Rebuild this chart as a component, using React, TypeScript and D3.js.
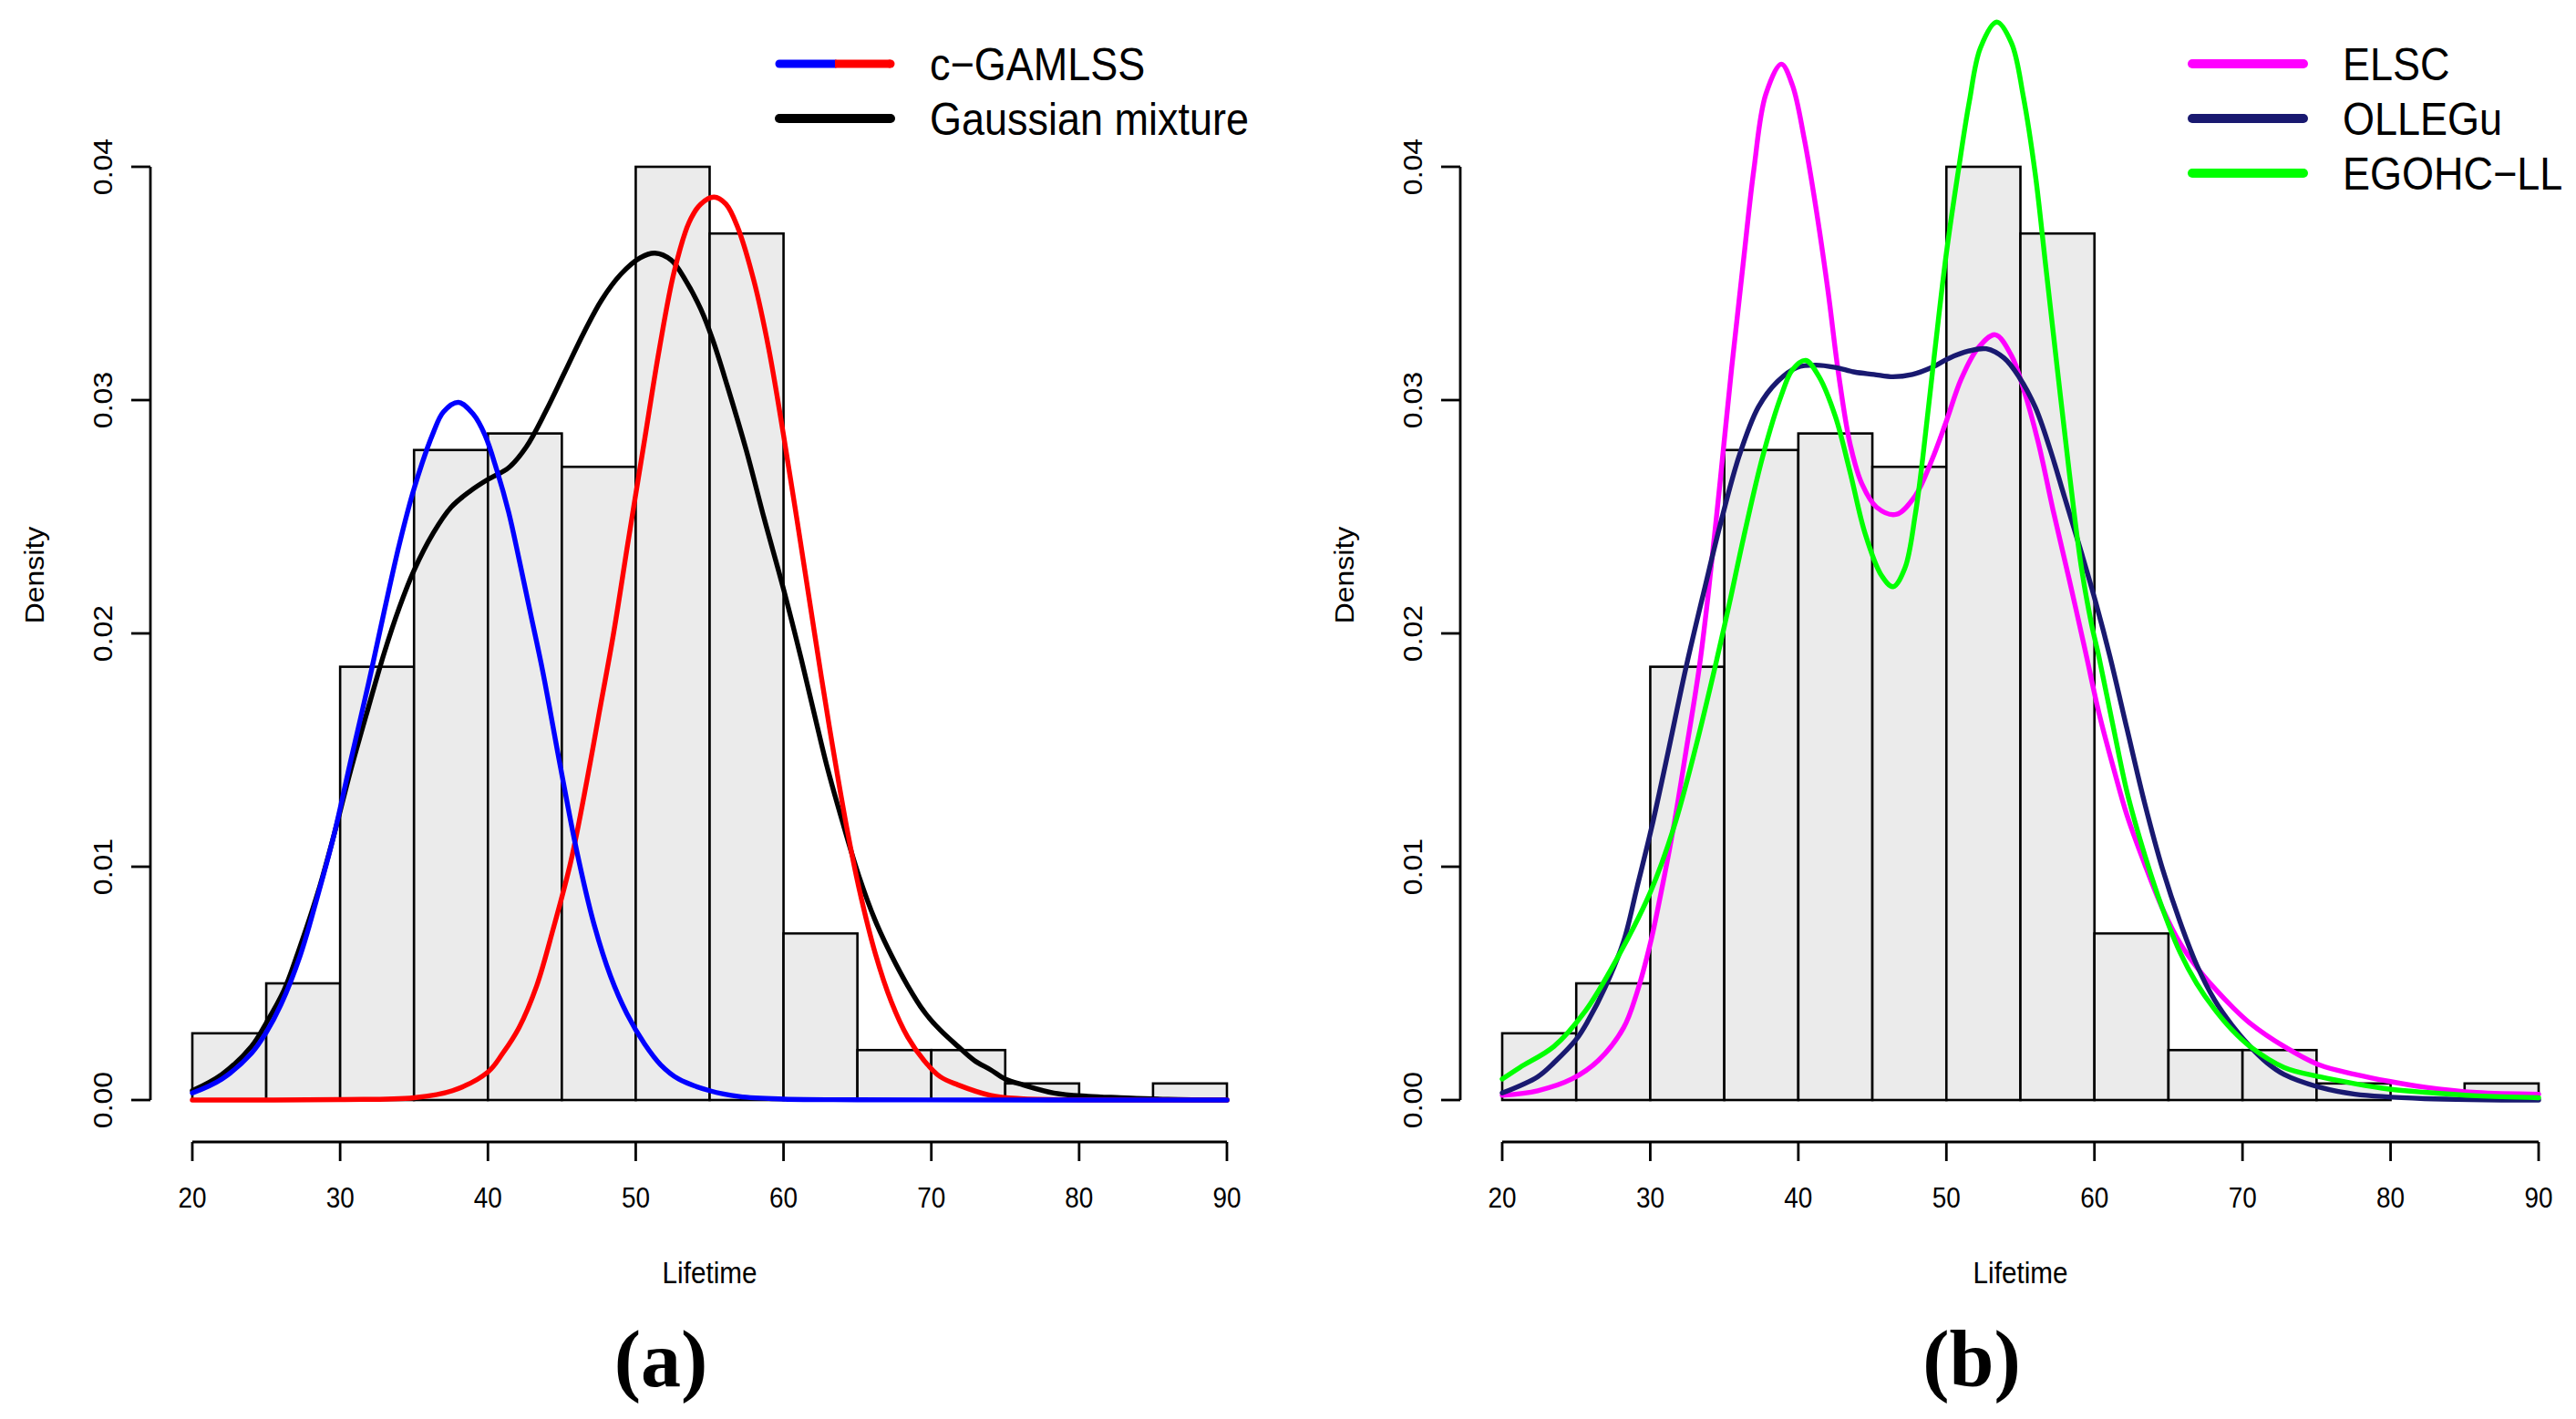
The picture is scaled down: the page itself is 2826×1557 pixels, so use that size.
import * as d3 from "d3";

// histogram (density per 5-year bin)
const binStarts = [20, 25, 30, 35, 40, 45, 50, 55, 60, 65, 70, 75, 80, 85];
const binWidth = 5;
const binDensity = [
  0.00286, 0.005, 0.01857, 0.02786, 0.02857, 0.02714, 0.04, 0.03714, 0.00714,
  0.00214, 0.00214, 0.00071, 0, 0.00071,
];

const xTicks = [20, 30, 40, 50, 60, 70, 80, 90];
const yTicks = [0, 0.01, 0.02, 0.03, 0.04];
const yTickLabels = ["0.00", "0.01", "0.02", "0.03", "0.04"];

type Pt = [number, number];

// panel (a)
const gaussianMixture: Pt[] = [
  [20, 0.0004], [22, 0.0011], [24, 0.0023], [25, 0.0033], [26.2, 0.0047],
  [27.3, 0.0066], [28.5, 0.0089], [29.6, 0.0114], [30.7, 0.0141], [31.9, 0.0168],
  [33, 0.0192], [34, 0.0211], [35, 0.0227], [36.3, 0.0243], [37.5, 0.0254],
  [38.8, 0.0261], [40, 0.0266], [41.4, 0.0271], [42.6, 0.028], [43.9, 0.0295],
  [45.2, 0.0312], [46.5, 0.0329], [47.7, 0.0343], [49, 0.0354], [50.3, 0.0361],
  [51.3, 0.0363], [52.4, 0.036], [53.4, 0.0351], [54.4, 0.0339], [55.2, 0.0326],
  [56.2, 0.0306], [57.5, 0.0278], [58.7, 0.0249], [60, 0.0219], [61.2, 0.0189],
  [62.1, 0.0165], [62.9, 0.0144], [64, 0.0119], [65.1, 0.0096], [66.2, 0.0077],
  [67.3, 0.0062], [68.4, 0.0049], [69.5, 0.0038], [70.6, 0.003], [71.8, 0.0023],
  [72.9, 0.0017], [74, 0.0013], [75, 0.0009], [76.2, 0.00065], [78.3, 0.0003],
  [80.6, 0.00016], [82.8, 0.0001], [86, 0.00003], [90, 0],
];

const gamlssLow: Pt[] = [
  [20, 0.0003], [22, 0.0009], [24, 0.002], [25, 0.0029], [26, 0.0041],
  [27.3, 0.0062], [28.5, 0.0088], [29.6, 0.0114], [30.7, 0.0145], [31.9, 0.0178],
  [33, 0.021], [34, 0.0238], [35, 0.0262], [36.3, 0.0286], [37, 0.0295],
  [38, 0.0299], [39, 0.0294], [39.8, 0.0285], [40.6, 0.027], [41.4, 0.0252],
  [42.1, 0.0232], [42.9, 0.0208], [43.7, 0.0184], [44.9, 0.0143], [46, 0.0107],
  [47.15, 0.0076], [48.3, 0.0053], [49.4, 0.0037], [50.6, 0.0024], [51.7, 0.0015],
  [52.9, 0.0009], [55, 0.0004], [57, 0.00015], [60, 0.00004], [65, 0.00001], [90, 0],
];

const gamlssHigh: Pt[] = [
  [20, 0], [30, 0.00002], [35, 0.0001], [37.6, 0.0004], [40, 0.0012],
  [41, 0.002], [42.1, 0.0031], [43.3, 0.0049], [44.4, 0.0073], [45.6, 0.0102],
  [46.7, 0.0137], [47.5, 0.0165], [48.5, 0.02], [49.5, 0.024], [50.6, 0.0283],
  [51.6, 0.0322], [52.6, 0.0355], [53.6, 0.0376], [54.4, 0.0384], [55.3, 0.0387],
  [56.1, 0.0384], [56.9, 0.0374], [58, 0.0351], [59, 0.0322], [60, 0.0285],
  [61.05, 0.0243], [62.1, 0.02], [63.1, 0.016], [64.3, 0.0116], [65.1, 0.0091],
  [66.2, 0.0063], [67.3, 0.0042], [68.4, 0.0027], [69.5, 0.0017], [70.6, 0.001],
  [71.8, 0.00065], [74, 0.0002], [76, 0.00006], [80, 0.00001], [90, 0],
];

// panel (b)
const elsc: Pt[] = [
  [20, 0.0002], [22.4, 0.0004], [24.7, 0.0009], [26.5, 0.0017], [28.2, 0.0031],
  [29.1, 0.0046], [30, 0.0067], [30.7, 0.0088], [31.6, 0.0118], [32.4, 0.0149],
  [33.3, 0.0185], [33.9, 0.0216], [34.7, 0.0264], [35.5, 0.0314], [36.3, 0.036],
  [37, 0.0399], [37.8, 0.0431], [38.85, 0.0444], [39.6, 0.0435], [40.4, 0.0412],
  [41.2, 0.0382], [42, 0.0347], [42.7, 0.0312], [43.5, 0.0281], [44.3, 0.0264],
  [45.3, 0.0254], [46.6, 0.0251], [47.9, 0.0259], [49, 0.0274], [50, 0.0291],
  [51, 0.0309], [52.1, 0.0322], [53.3, 0.0328], [54.4, 0.0319], [55.2, 0.0305],
  [56.2, 0.0282], [57.2, 0.0253], [58.3, 0.0223], [59.4, 0.0192], [60.3, 0.0166],
  [61.3, 0.0142], [62.2, 0.0122], [63.4, 0.0101], [64.6, 0.0082], [65.8, 0.0067],
  [66.9, 0.0057], [68.1, 0.0048], [69.3, 0.004], [70.5, 0.0033], [72.8, 0.0023],
  [75.2, 0.0015], [77.6, 0.0011], [79.9, 0.0008], [82.3, 0.00055], [85.8, 0.00032],
  [90, 0.00025],
];

const ollegu: Pt[] = [
  [20, 0.0003], [22.4, 0.001], [23.5, 0.0016], [25, 0.0026], [25.8, 0.0034],
  [27, 0.0049], [28.2, 0.0068], [29.1, 0.0091], [30.1, 0.0117], [31.2, 0.0149],
  [32.4, 0.0185], [33.7, 0.022], [34.7, 0.0246], [36, 0.0276], [37.3, 0.0297],
  [38.6, 0.0308], [39.9, 0.0314], [41.2, 0.0315], [42.5, 0.0314], [43.8, 0.0312],
  [45.1, 0.0311], [46.4, 0.031], [47.7, 0.0311], [49, 0.0314], [50.2, 0.0318],
  [51.5, 0.0321], [52.7, 0.0322], [53.9, 0.0318], [54.9, 0.031], [56, 0.0297],
  [57, 0.0279], [58, 0.0258], [59.1, 0.0235], [60.1, 0.0213], [61.05, 0.019],
  [62.2, 0.0159], [63.4, 0.0127], [64.6, 0.0099], [65.8, 0.0076], [66.9, 0.0058],
  [68.1, 0.0043], [69.3, 0.0032], [70.5, 0.0023], [71.65, 0.0016], [72.8, 0.0011],
  [75.2, 0.00055], [77.6, 0.00025], [82.3, 0.00006], [90, 0],
];

const egohcll: Pt[] = [
  [20, 0.0009], [21.2, 0.0014], [23.5, 0.0023], [25.6, 0.0038], [27.7, 0.006],
  [30, 0.0089], [31.6, 0.0117], [33.1, 0.0152], [34.5, 0.0189], [35.35, 0.0213],
  [36.3, 0.0241], [37.6, 0.0276], [38.85, 0.0302], [39.6, 0.0313], [40.5, 0.0317],
  [41.4, 0.031], [42.5, 0.0293], [43.5, 0.0269], [44.5, 0.0243], [45.6, 0.0225],
  [46.4, 0.022], [47.2, 0.0228], [47.9, 0.0251], [48.4, 0.0275], [49.2, 0.032],
  [50, 0.0363], [50.8, 0.0398], [51.55, 0.0428], [52.3, 0.0451], [53.4, 0.0462],
  [54.4, 0.0453], [55.2, 0.043], [56, 0.0397], [56.7, 0.0358], [57.5, 0.0313],
  [58.3, 0.0269], [59.1, 0.0229], [59.8, 0.0204], [60.3, 0.019], [61.3, 0.0159],
  [62.2, 0.0132], [63.4, 0.0105], [64.6, 0.0082], [65.8, 0.0063], [66.9, 0.005],
  [68.1, 0.0039], [69.3, 0.003], [70.5, 0.0023], [72.8, 0.0014], [75.2, 0.001],
  [77.6, 0.0007], [79.9, 0.00047], [82.3, 0.00033], [85.8, 0.00018], [90, 0.0001],
];

const W = 2826;
const H = 1557;
const FONT = "'Liberation Sans', Arial, Helvetica, sans-serif";
const SX = 0.9; // the R figure is squeezed horizontally

const y = d3.scaleLinear().domain([0, 0.04]).range([1207, 183]);

type Curve = { data: Pt[]; color: string };
type LegendItem = { label: string; colors: string[]; lw: number };

function Panel({
  left,
  right,
  curves,
  legend,
  legendX,
  tag,
  tagX,
}: {
  left: number;
  right: number;
  curves: Curve[];
  legend: LegendItem[];
  legendX: number;
  tag: string;
  tagX: number;
}) {
  const x = d3.scaleLinear().domain([20, 90]).range([left, right]);
  const line = d3
    .line<Pt>()
    .x((d) => x(d[0]))
    .y((d) => Math.min(y(0), y(d[1])))
    .curve(d3.curveCatmullRom.alpha(0.5));

  const axisX = left - 46;
  const axisY = y(0) + 46;
  const mid = (left + right) / 2;

  return (
    <g>
      {/* bars */}
      {binStarts.map((b, i) => (
        <rect
          key={b}
          x={x(b)}
          y={y(binDensity[i])}
          width={x(b + binWidth) - x(b)}
          height={y(0) - y(binDensity[i])}
          fill="#ebebeb"
          stroke="#000"
          strokeWidth={2.6}
        />
      ))}

      {/* curves */}
      {curves.map((c, i) => (
        <path
          key={i}
          d={line(c.data) ?? ""}
          fill="none"
          stroke={c.color}
          strokeWidth={5.4}
          strokeLinejoin="round"
          strokeLinecap="round"
        />
      ))}

      {/* y axis */}
      <line x1={axisX} x2={axisX} y1={y(0)} y2={y(0.04)} stroke="#000" strokeWidth={2.8} />
      {yTicks.map((t, i) => (
        <g key={t}>
          <line x1={axisX - 21} x2={axisX} y1={y(t)} y2={y(t)} stroke="#000" strokeWidth={2.8} />
          <text
            transform={`translate(${left - 88},${y(t)}) scale(${SX},1) rotate(-90)`}
            textAnchor="middle"
            fontFamily={FONT}
            fontSize={32}
          >
            {yTickLabels[i]}
          </text>
        </g>
      ))}
      <text
        transform={`translate(${left - 163},631) scale(${SX},1) rotate(-90)`}
        textAnchor="middle"
        fontFamily={FONT}
        fontSize={32}
      >
        Density
      </text>

      {/* x axis */}
      <line x1={x(20)} x2={x(90)} y1={axisY} y2={axisY} stroke="#000" strokeWidth={2.8} />
      {xTicks.map((t) => (
        <g key={t}>
          <line x1={x(t)} x2={x(t)} y1={axisY} y2={axisY + 21} stroke="#000" strokeWidth={2.8} />
          <text
            transform={`translate(${x(t)},1325) scale(${SX},1)`}
            textAnchor="middle"
            fontFamily={FONT}
            fontSize={31}
          >
            {t}
          </text>
        </g>
      ))}
      <text
        transform={`translate(${mid},1408) scale(${SX},1)`}
        textAnchor="middle"
        fontFamily={FONT}
        fontSize={33}
      >
        Lifetime
      </text>

      {/* legend */}
      {legend.map((item, i) => {
        const ly = 70 + i * 60;
        const x0 = legendX + 5;
        const x1 = legendX + 127;
        if (item.colors.length === 2) {
          const xm = (legendX + x1 + 5) / 2;
          return (
            <g key={item.label}>
              <line x1={x0} x2={xm} y1={ly} y2={ly} stroke={item.colors[0]} strokeWidth={item.lw} strokeLinecap="round" />
              <line x1={xm} x2={x1} y1={ly} y2={ly} stroke={item.colors[1]} strokeWidth={item.lw} strokeLinecap="butt" />
              <line x1={x1 - 0.5} x2={x1} y1={ly} y2={ly} stroke={item.colors[1]} strokeWidth={item.lw} strokeLinecap="round" />
              <text transform={`translate(${legendX + 170},${ly + 18}) scale(${SX},1)`} fontFamily={FONT} fontSize={50}>
                {item.label}
              </text>
            </g>
          );
        }
        return (
          <g key={item.label}>
            <line x1={x0} x2={x1} y1={ly} y2={ly} stroke={item.colors[0]} strokeWidth={item.lw} strokeLinecap="round" />
            <text transform={`translate(${legendX + 170},${ly + 18}) scale(${SX},1)`} fontFamily={FONT} fontSize={50}>
              {item.label}
            </text>
          </g>
        );
      })}

      {/* panel tag */}
      <text
        x={tagX}
        y={1521}
        textAnchor="middle"
        fontFamily="'Liberation Serif', 'Times New Roman', serif"
        fontWeight="bold"
        fontSize={88}
      >
        {tag}
      </text>
    </g>
  );
}

export default function App() {
  return (
    <div style={{ position: "absolute", left: 0, top: 0 }}>
      <svg width={W} height={H} viewBox={`0 0 ${W} ${H}`} style={{ display: "block", background: "#fff" }}>
        <Panel
          left={211}
          right={1346}
          curves={[
            { data: gaussianMixture, color: "#000000" },
            { data: gamlssHigh, color: "#ff0000" },
            { data: gamlssLow, color: "#0000ff" },
          ]}
          legend={[
            { label: "c−GAMLSS", colors: ["#0000ff", "#ff0000"], lw: 9 },
            { label: "Gaussian mixture", colors: ["#000000"], lw: 10 },
          ]}
          legendX={850}
          tag="(a)"
          tagX={725}
        />
        <Panel
          left={1648}
          right={2785}
          curves={[
            { data: elsc, color: "#ff00ff" },
            { data: ollegu, color: "#191970" },
            { data: egohcll, color: "#00ff00" },
          ]}
          legend={[
            { label: "ELSC", colors: ["#ff00ff"], lw: 10 },
            { label: "OLLEGu", colors: ["#191970"], lw: 10 },
            { label: "EGOHC−LL", colors: ["#00ff00"], lw: 10 },
          ]}
          legendX={2400}
          tag="(b)"
          tagX={2163}
        />
      </svg>
    </div>
  );
}
